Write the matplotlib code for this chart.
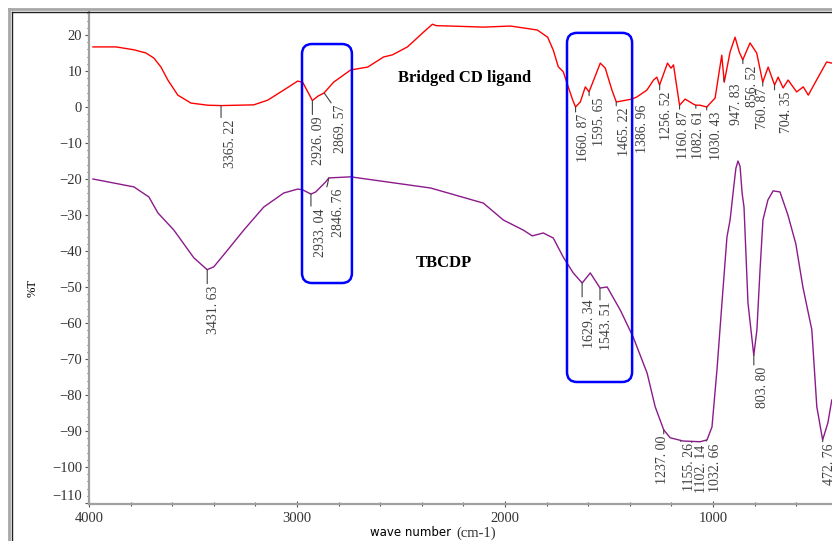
import matplotlib
matplotlib.use('Agg')
import matplotlib.pyplot as plt
import numpy as np
from matplotlib.patches import FancyBboxPatch
from matplotlib.lines import Line2D
from matplotlib.transforms import IdentityTransform

# --- spectra (wave number cm-1, %T) ---
red_wn = [3981, 3870, 3784, 3726, 3688, 3654, 3621, 3573, 3510, 3429,
          3365, 3208, 3141, 3064, 2997, 2973, 2926, 2900, 2870, 2824,
          2742, 2660, 2584, 2541, 2469, 2392, 2349, 2330, 2262, 2104,
          1974, 1845, 1795, 1768, 1744, 1720, 1696, 1675, 1661, 1638,
          1614, 1596, 1542, 1518, 1486, 1465, 1390, 1366, 1318, 1286,
          1270, 1257, 1219, 1202, 1190, 1161, 1134, 1094, 1083, 1062,
          1030, 990, 958, 946, 918, 894, 874, 857, 822, 790,
          761, 735, 704, 687, 663, 639, 598, 566, 542, 502,
          454, 429]
red_t = [16.7, 16.7, 15.9, 15.0, 13.6, 11.1, 7.5, 3.3, 1.1, 0.5,
         0.4, 0.6, 1.9, 4.7, 7.2, 6.9, 1.8, 3.0, 3.9, 6.9,
         10.3, 11.1, 13.9, 14.5, 16.7, 20.8, 23.0, 22.6, 22.5, 22.2,
         22.5, 21.4, 19.4, 15.8, 11.2, 9.8, 5.6, 2.0, 0.0, 1.4,
         5.6, 4.2, 12.2, 10.8, 4.7, 1.4, 2.2, 2.8, 4.7, 7.5,
         8.3, 6.1, 12.2, 10.8, 11.7, 0.5, 2.2, 0.8, 0.5, 0.5,
         0.0, 2.5, 14.4, 6.9, 15.3, 19.4, 15.3, 13.1, 17.8, 15.0,
         6.9, 11.1, 6.1, 8.3, 5.3, 7.5, 4.2, 5.6, 3.3, 7.5,
         12.5, 12.2]

pur_wn = [3981, 3784, 3712, 3669, 3592, 3496, 3432, 3400, 3333, 3256,
          3160, 3064, 2997, 2973, 2933, 2910, 2862, 2847, 2742, 2358,
          2104, 2008, 1912, 1869, 1816, 1768, 1720, 1672, 1629, 1590,
          1543, 1509, 1446, 1384, 1317, 1278, 1237, 1206, 1144, 1062,
          1029, 1005, 981, 957, 933, 918, 900, 890, 880, 870,
          860, 851, 832, 804, 789, 774, 760, 736, 711, 678,
          640, 602, 568, 525, 501, 473, 448, 429]
pur_t = [-20, -22.2, -25, -29.4, -34.2, -41.9, -45.2, -44.4, -39.7, -34.2,
         -27.8, -23.9, -22.8, -23, -24.2, -23.6, -20.8, -19.7, -19.4, -22.5,
         -26.7, -31.4, -34.2, -35.8, -35, -36.4, -41.7, -46.1, -48.9, -46.1,
         -50.3, -50, -56.4, -63.9, -73.9, -83.3, -89.7, -91.9, -92.8, -93,
         -92.5, -88.9, -73, -54.4, -36.1, -31.4, -22, -17, -15, -16.5,
         -24, -27.8, -54.4, -69, -61.9, -45.3, -31.4, -25.8, -23.3, -23.6,
         -30, -38, -50, -61.9, -83.3, -92.5, -87.8, -81.4]

# peak labels
red_peaks = [3365.22, 2926.09, 2869.57, 1660.87, 1595.65, 1465.22, 1386.96,
             1256.52, 1160.87, 1082.61, 1030.43, 947.83, 856.52, 760.87, 704.35]
pur_peaks = [3431.63, 2933.04, 2846.76, 1629.34, 1543.51, 1237.00, 1155.26,
             1102.14, 1032.66, 803.80, 472.76]

# layout of the labels: (leader length px, text x shift px, leader lean px)
red_layout = [(12, 9, 0), (14, 6, 0), (10, 16, 7), (5, 8, 0), (4, 10, 0),
              (4, 8, 0), (4, 10, 0), (5, 7, 0), (4, 4, 0), (3, 3, 0),
              (3, 10, 0), (3, 13, 0), (4, 10, 0), (4, 0, 0), (5, 12, 0)]
pur_layout = [(14, 6, 0), (12, 10, 0), (9, 10, -2), (14, 7, 0), (12, 7, 0),
              (4, -1, 0), (1, 9, 0), (1, 10, 0), (1, 9, 0), (10, 9, 0), (2, 7, 0)]

# highlighted regions (wave number range, %T range)
boxes = [((2976, 2736), (17.5, -48.9)), ((1702, 1389), (20.6, -76.4))]

W, H = 832, 541
fig = plt.figure(figsize=(W / 100, H / 100), dpi=100)
ax = fig.add_axes([89 / W, (H - 504) / H, (W - 89) / W, (504 - 12) / H])

red_col = '#ff0000'
pur_col = '#8b1a8b'
ax.plot(red_wn, red_t, color=red_col, lw=1.0)
ax.plot(pur_wn, pur_t, color=pur_col, lw=1.0)

ax.set_xlim(4000, 428)
ax.set_ylim(-110.3, 26.4)

ax.set_xticks([4000, 3000, 2000, 1000])
ax.set_xticks(np.arange(4000, 400, -200), minor=True)
ax.set_yticks(np.arange(-110, 21, 10))
ax.set_yticks(np.arange(-110, 27, 2), minor=True)

serif = 'Liberation Serif'
for lab in ax.get_xticklabels() + ax.get_yticklabels():
    lab.set_family(serif)
    lab.set_fontsize(10.5)
    lab.set_color('#333333')
ax.tick_params(axis='y', which='major', direction='out', length=3, width=0.8,
               color='#555555', pad=2)
ax.tick_params(axis='y', which='minor', direction='out', length=1.5, width=0.8,
               color='#555555')
ax.tick_params(axis='x', which='major', direction='inout', length=4, width=0.8,
               color='#555555', pad=4)
ax.tick_params(axis='x', which='minor', direction='inout', length=2.5, width=0.8,
               color='#555555')
ax.yaxis.get_major_ticks()[0].label1.set_verticalalignment('bottom')

for s in ['top', 'right']:
    ax.spines[s].set_visible(False)
for s in ['left', 'bottom']:
    ax.spines[s].set_color('#a0a0a0')
    ax.spines[s].set_linewidth(1.6)


def label_peaks(wn, t, peaks, layout):
    order = np.argsort(wn)
    xs = np.array(wn)[order]
    ys = np.array(t)[order]
    for p, (lead, dx, lean) in zip(peaks, layout):
        yv = np.interp(p, xs, ys)
        ax.annotate('', xy=(p, yv), xytext=(lean, -lead), textcoords='offset pixels',
                    arrowprops=dict(arrowstyle='-', color='#404040', lw=0.8,
                                    shrinkA=0, shrinkB=0), annotation_clip=False)
        ax.annotate('%.2f' % p, xy=(p, yv), xytext=(dx, -lead - 2),
                    textcoords='offset pixels', rotation=90, ha='center', va='top',
                    fontsize=10, color='#404040', family=serif,
                    annotation_clip=False)


label_peaks(red_wn, red_t, red_peaks, red_layout)
label_peaks(pur_wn, pur_t, pur_peaks, pur_layout)
# the software writes the decimals as "1234. 56"
for txt in ax.texts:
    s = txt.get_text()
    if '.' in s:
        txt.set_text(s.replace('.', '. '))

ax.text(2195, 8.1, 'Bridged CD ligand', ha='center', va='center',
        fontsize=12, fontweight='bold', family=serif)
ax.text(2296, -43.3, 'TBCDP', ha='center', va='center',
        fontsize=12, fontweight='bold', family=serif)

# blue rounded boxes, rounding done in pixels
for (x0, x1), (y0, y1) in boxes:
    p0 = ax.transData.transform((x0, y1))
    p1 = ax.transData.transform((x1, y0))
    box = FancyBboxPatch((p0[0], p0[1]), p1[0] - p0[0], p1[1] - p0[1],
                         boxstyle='round,pad=0,rounding_size=10',
                         transform=IdentityTransform(), facecolor='none',
                         edgecolor='#0000ff', lw=1.8, zorder=5)
    fig.add_artist(box)

# axis titles
fig.text(33 / W, 1 - 288 / H, '%T', rotation=90, ha='center', va='center',
         fontsize=9, family=serif)
fig.text(411 / W, 1 - 532 / H, 'wave number', ha='center', va='center',
         fontsize=8.5, family='DejaVu Sans')
fig.text(476 / W, 1 - 533 / H, '(cm-1)', ha='center', va='center',
         fontsize=10.5, family=serif, color='#333333')

# window frame
fig.add_artist(Line2D([9 / W, 9 / W], [0, 1 - 9 / H], transform=fig.transFigure,
                      color='#a8a8a8', lw=2))
fig.add_artist(Line2D([12 / W, 12 / W], [0, 1 - 12 / H], transform=fig.transFigure,
                      color='#202020', lw=1))
fig.add_artist(Line2D([9 / W, 1], [1 - 9 / H, 1 - 9 / H], transform=fig.transFigure,
                      color='#a8a8a8', lw=2))
fig.add_artist(Line2D([12 / W, 1], [1 - 12 / H, 1 - 12 / H], transform=fig.transFigure,
                      color='#202020', lw=1))

fig.savefig('out.png', dpi=100)
